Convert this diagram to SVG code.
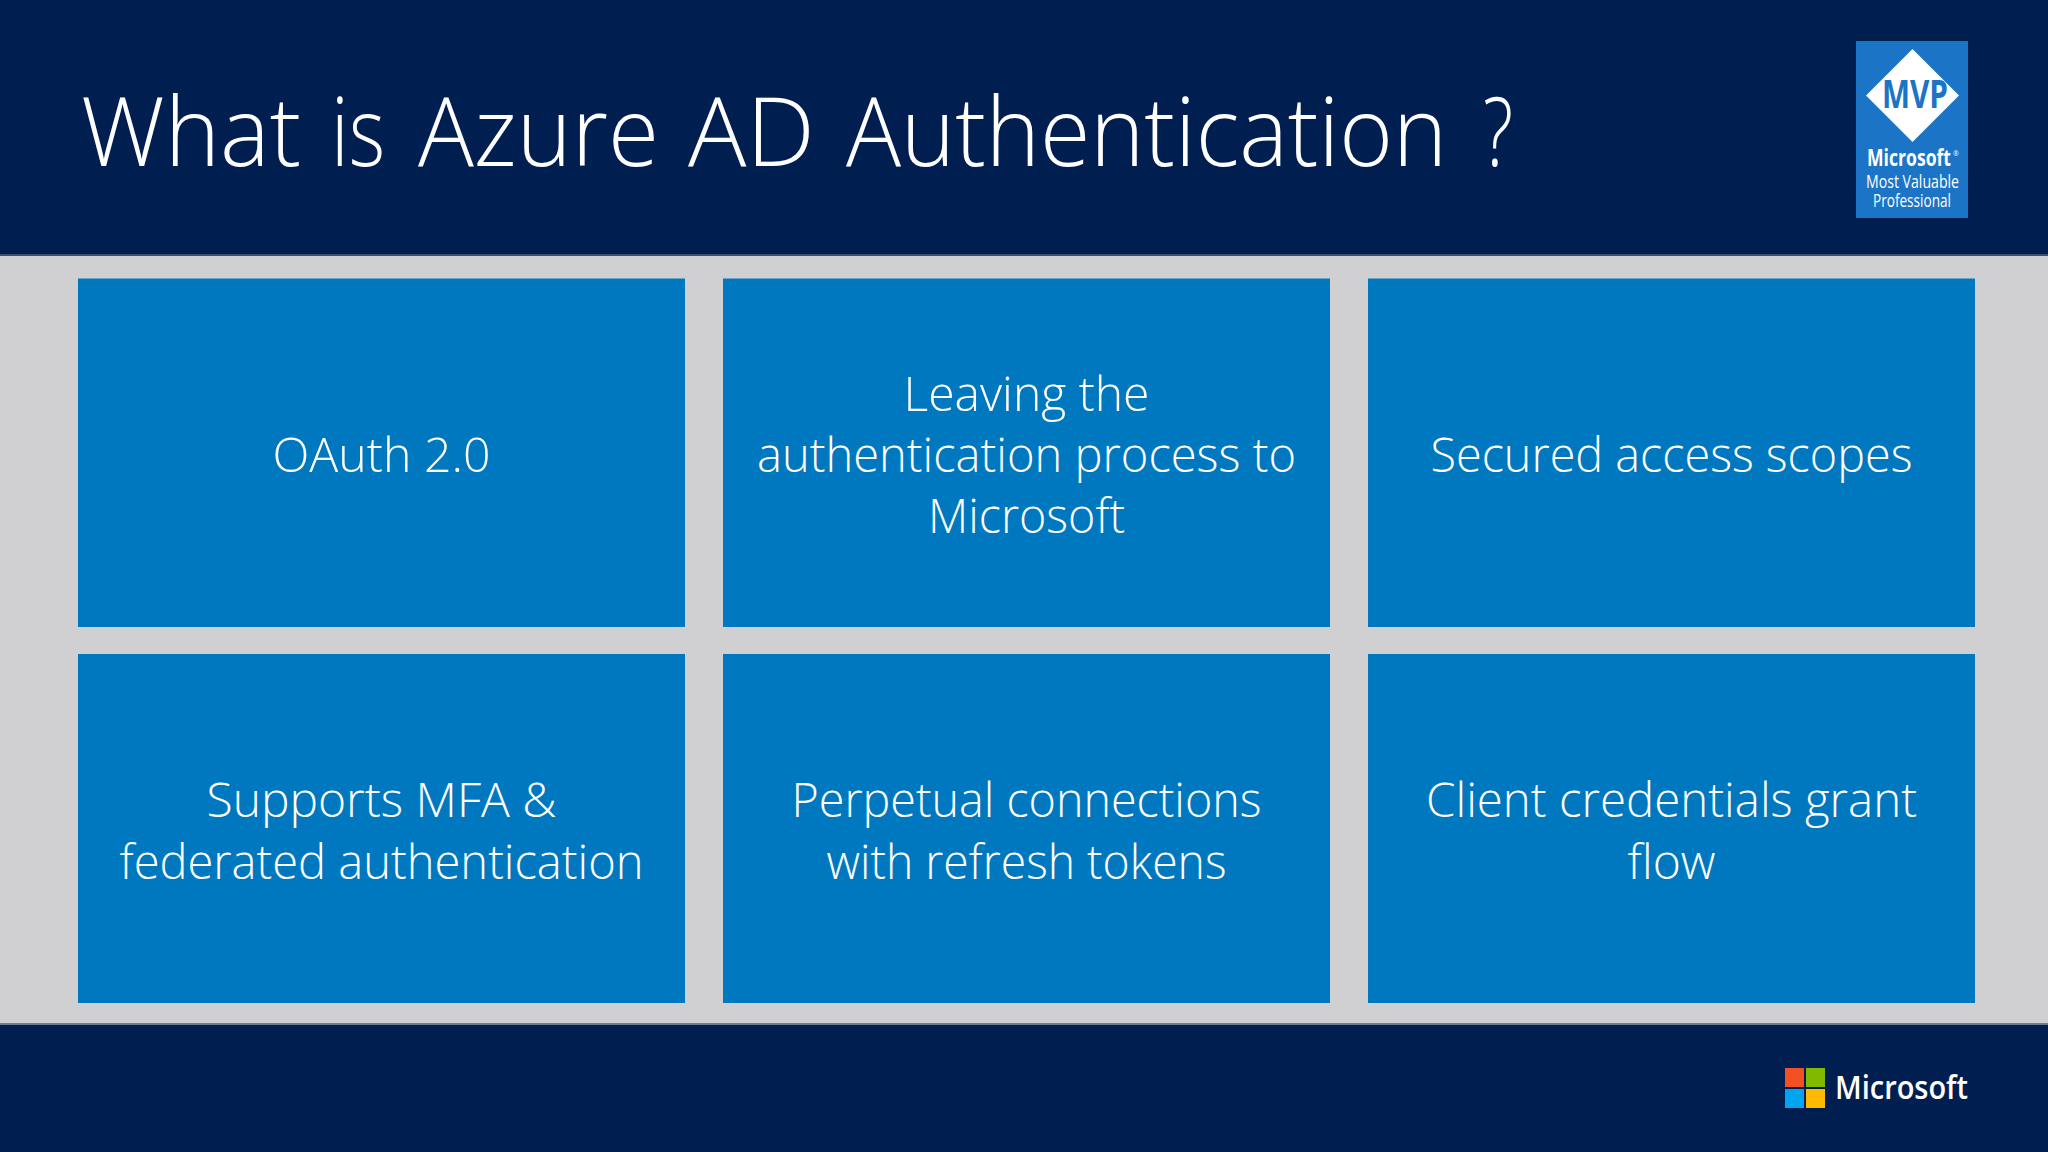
<svg xmlns="http://www.w3.org/2000/svg" width="2048" height="1152" viewBox="0 0 2048 1152">
<style>
.t{font-family:"Open Sans","Noto Sans","Liberation Sans",sans-serif;font-weight:300;fill:#fff}
.b{font-size:48px;text-anchor:middle}
.box{fill:#0078bf}
.m{font-family:"Open Sans","Liberation Sans",sans-serif;fill:#fff;text-anchor:middle}
</style>
<rect width="2048" height="1152" fill="#d0d0d2"/>
<rect id="header" width="2048" height="255" fill="#001f50"/>
<rect y="254" width="2048" height="2" fill="#3c5070"/>
<rect id="footer" y="1025" width="2048" height="127" fill="#001f50"/>
<rect y="1023" width="2048" height="2" fill="#6b7a8e"/>
<text id="title" class="t" y="166" font-size="96"><tspan x="81" textLength="220" lengthAdjust="spacingAndGlyphs">What</tspan><tspan x="331" textLength="54" lengthAdjust="spacingAndGlyphs">is</tspan><tspan x="418" textLength="241" lengthAdjust="spacingAndGlyphs">Azure</tspan><tspan x="688" textLength="127" lengthAdjust="spacingAndGlyphs">AD</tspan><tspan x="846" textLength="601" lengthAdjust="spacingAndGlyphs">Authentication</tspan><tspan x="1483" textLength="30" lengthAdjust="spacingAndGlyphs">?</tspan></text>
<g id="node1"><rect class="box" x="78" y="278.500" width="607" height="348.500"/><text class="t b" x="381.500" y="472" textLength="218" lengthAdjust="spacingAndGlyphs">OAuth 2.0</text></g>
<g id="node2"><rect class="box" x="723" y="278.500" width="607" height="348.500"/><text class="t b" x="1026.500" y="411" textLength="246" lengthAdjust="spacingAndGlyphs">Leaving the</text><text class="t b" x="1026.500" y="472" textLength="539" lengthAdjust="spacingAndGlyphs">authentication process to</text><text class="t b" x="1026.500" y="533" textLength="197" lengthAdjust="spacingAndGlyphs">Microsoft</text></g>
<g id="node3"><rect class="box" x="1368" y="278.500" width="607" height="348.500"/><text class="t b" x="1671.500" y="472" textLength="482" lengthAdjust="spacingAndGlyphs">Secured access scopes</text></g>
<g id="node4"><rect class="box" x="78" y="654" width="607" height="349"/><text class="t b" x="381.500" y="817" textLength="350" lengthAdjust="spacingAndGlyphs">Supports MFA &amp;</text><text class="t b" x="381.500" y="878.500" textLength="524" lengthAdjust="spacingAndGlyphs">federated authentication</text></g>
<g id="node5"><rect class="box" x="723" y="654" width="607" height="349"/><text class="t b" x="1026.500" y="817" textLength="470" lengthAdjust="spacingAndGlyphs">Perpetual connections</text><text class="t b" x="1026.500" y="878.500" textLength="400" lengthAdjust="spacingAndGlyphs">with refresh tokens</text></g>
<g id="node6"><rect class="box" x="1368" y="654" width="607" height="349"/><text class="t b" x="1671.500" y="817" textLength="491" lengthAdjust="spacingAndGlyphs">Client credentials grant</text><text class="t b" x="1671.500" y="878.500" textLength="88" lengthAdjust="spacingAndGlyphs">flow</text></g>
<g id="mvp-badge">
<rect x="1856" y="41" width="112" height="177" fill="#1b74c5"/>
<polygon points="1912.500,49 1959,95.500 1912.500,142 1866,95.500" fill="#fff"/>
<text x="1915" y="108" class="m" font-size="40" font-weight="700" style="fill:#1b74c5" textLength="66" lengthAdjust="spacingAndGlyphs">MVP</text>
<text x="1909" y="166" class="m" font-size="24" font-weight="700" textLength="84" lengthAdjust="spacingAndGlyphs">Microsoft</text>
<text x="1956" y="156" class="m" font-size="7">®</text>
<text x="1912.500" y="188" class="m" font-size="18" textLength="93" lengthAdjust="spacingAndGlyphs">Most Valuable</text>
<text x="1912" y="207" class="m" font-size="18" textLength="78" lengthAdjust="spacingAndGlyphs">Professional</text>
</g>
<g id="microsoft-logo">
<rect x="1785" y="1068" width="19" height="19" fill="#f25022"/>
<rect x="1806" y="1068" width="19" height="19" fill="#7fba00"/>
<rect x="1785" y="1089" width="19" height="19" fill="#00a4ef"/>
<rect x="1806" y="1089" width="19" height="19" fill="#ffb900"/>
<text x="1835" y="1099" font-family="'Open Sans','Liberation Sans',sans-serif" font-size="32" font-weight="600" fill="#fff" textLength="133" lengthAdjust="spacingAndGlyphs">Microsoft</text>
</g>
</svg>
